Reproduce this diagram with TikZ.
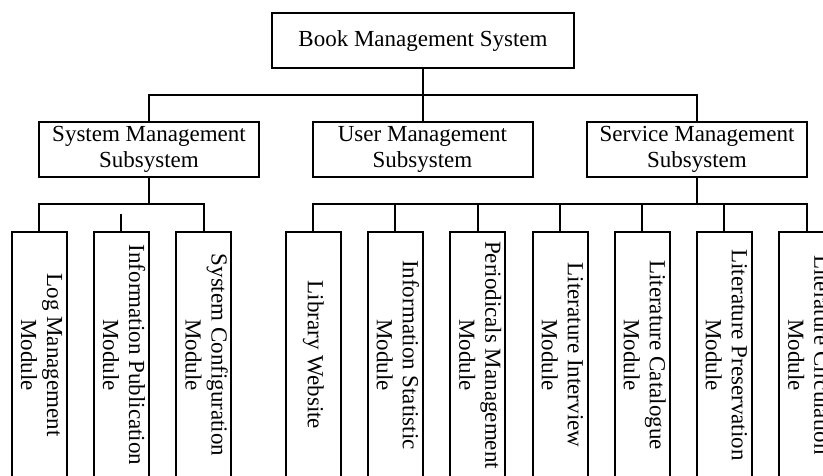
\documentclass[tikz,border=0pt]{standalone}
\usepackage{fontspec}
\setmainfont{Liberation Serif}
\begin{document}
\begin{tikzpicture}[x=1pt,y=-1pt,
  box/.style={draw, line width=2pt, inner sep=0pt, align=center,
    font=\fontsize{23}{27}\selectfont},
  mainbox/.style={box, minimum width=302pt, minimum height=55pt},
  subbox/.style={box, minimum width=220pt, minimum height=55pt},
  modbox/.style={box, minimum width=55pt, minimum height=246pt},
  conn/.style={draw, line width=2pt, line cap=rect}
]
\useasboundingbox (0,0) rectangle (823,475);
\clip (0,0) rectangle (823,475);
\fill[white] (0,0) rectangle (823,475);
\newcommand{\vtext}[1]{\rotatebox{-90}{\fontsize{23}{26}\selectfont\begin{tabular}{@{}c@{}}#1\end{tabular}}}

\node[mainbox] (top) at (423,40.5) {Book Management System};
\node[subbox] (sys) at (149,149.5) {System Management\\[-1pt]Subsystem};
\node[subbox] (user) at (422.5,149.5) {User Management\\[-1pt]Subsystem};
\node[subbox] (serv) at (697,149.5) {Service Management\\[-1pt]Subsystem};

\node[modbox] (log)  at (39.3,355)  {\vtext{Log Management\\Module}};
\node[modbox] (pub)  at (121.3,355) {\vtext{Information Publication\\Module}};
\node[modbox] (conf) at (203.7,355) {\vtext{System Configuration\\Module}};
\node[modbox] (web)  at (313,355)   {\vtext{Library Website}};
\node[modbox] (stat) at (395,355)   {\vtext{Information Statistic\\Module}};
\node[modbox] (peri) at (477.5,355) {\vtext{Periodicals Management\\Module}};
\node[modbox] (intv) at (560,355)   {\vtext{Literature Interview\\Module}};
\node[modbox] (cata) at (642,355)   {\vtext{Literature Catalogue\\Module}};
\node[modbox] (pres) at (724,355)   {\vtext{Literature Preservation\\Module}};
\node[modbox] (circ) at (806.5,355) {\vtext{Literature Circulation\\Module}};

\coordinate (topbus) at (0,95);
\coordinate (sbus) at (0,204);
\coordinate (pubstub) at (121.3,215);

\draw[conn] (top.south) -- (top.south |- topbus);
\draw[conn] (sys.north) -- (sys.north |- topbus) -- (serv.north |- topbus) -- (serv.north);
\draw[conn] (user.north) -- (user.north |- topbus);

\draw[conn] (sys.south) -- (sys.south |- sbus);
\draw[conn] (log.north) -- (log.north |- sbus) -- (conf.north |- sbus) -- (conf.north);
\draw[conn] (pub.north) -- (pub.north |- pubstub);

\draw[conn] (serv.south) -- (serv.south |- sbus);
\draw[conn] (web.north) -- (web.north |- sbus) -- (circ.north |- sbus) -- (circ.north);
\foreach \m in {stat,peri,intv,cata,pres}
  \draw[conn] (\m.north) -- (\m.north |- sbus);
\end{tikzpicture}
\end{document}
